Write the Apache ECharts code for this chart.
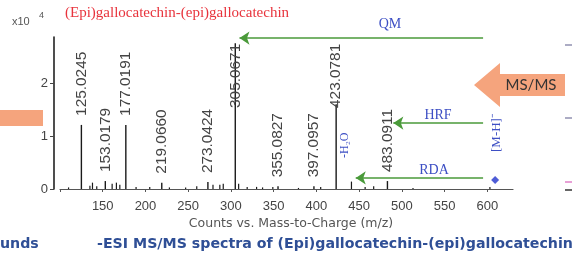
<!DOCTYPE html>
<html>
<head>
<meta charset="utf-8">
<script src="https://cdn.jsdelivr.net/npm/echarts@6/dist/echarts.min.js"></script>
<style>
  html, body { margin: 0; padding: 0; background: #fff; }
  #chart { width: 572px; height: 256px; }
</style>
</head>
<body>
<div id="chart"></div>
<script>
  // labelled fragment ions (m/z text, intensity x10^4)
  const labelMz = ['125.0245', '153.0179', '177.0191', '219.0660', '273.0424', '305.0671', '355.0827', '397.0957', '423.0781', '483.0911'];
  const labelInt = [1.21, 0.15, 1.21, 0.12, 0.13, 2.75, 0.05, 0.05, 1.60, 0.15];

  // small unlabelled peaks
  const minorMz = [110, 135, 138, 143, 161, 166, 170, 189, 205, 228, 247, 260, 279, 287, 291, 309, 319, 330, 337, 349, 379, 405, 441, 457, 467, 513, 603];
  const minorInt = [0.03, 0.06, 0.12, 0.05, 0.10, 0.12, 0.08, 0.04, 0.04, 0.03, 0.03, 0.05, 0.08, 0.08, 0.10, 0.10, 0.04, 0.04, 0.03, 0.04, 0.02, 0.04, 0.14, 0.04, 0.05, 0.02, 0.04];

  // precursor ion [M-H]-
  const precursor = [609.1, 0.17];

  const xTicks = [100, 150, 200, 250, 300, 350, 400, 450, 500, 550, 600];
  const yTicks = [0, 1, 2];

  const chart = echarts.init(document.getElementById('chart'));

  const peaks = [];
  labelMz.forEach((m, i) => peaks.push([parseFloat(m), labelInt[i], m]));
  minorMz.forEach((m, i) => peaks.push([m, minorInt[i], '']));

  const plotTop = 37;
  const green = '#4a9a3a';
  const blue = '#3d4fc4';
  const navy = '#2f4f96';

  const option = {
    animation: false,
    grid: { left: 60, right: 59, top: plotTop, bottom: 67 },
    xAxis: {
      type: 'value', min: 100, max: 630, offset: 6,
      axisLine: { lineStyle: { color: '#555', width: 1.2 } },
      axisTick: { customValues: xTicks, length: 3, lineStyle: { color: '#555' } },
      axisLabel: {
        customValues: xTicks, color: '#444', fontSize: 13, fontFamily: 'Liberation Sans',
        margin: 5, formatter: v => (v === 100 ? '' : String(v))
      },
      splitLine: { show: false }
    },
    yAxis: {
      type: 'value', min: 0, max: 2.87, offset: 6,
      axisLine: { show: true, lineStyle: { color: '#222', width: 1.6 } },
      axisTick: { show: true, customValues: yTicks, length: 4, lineStyle: { color: '#444' } },
      axisLabel: { customValues: yTicks, color: '#444', fontSize: 13, fontFamily: 'Liberation Sans', margin: 6 },
      splitLine: { show: false }
    },
    series: [
      {
        type: 'custom',
        data: peaks,
        silent: true,
        renderItem: (params, api) => {
          const mz = api.value(0);
          const base = api.coord([mz, 0]);
          const top = api.coord([mz, api.value(1)]);
          const text = peaks[params.dataIndex][2];
          const children = [{
            type: 'line',
            shape: { x1: base[0], y1: base[1], x2: top[0], y2: top[1] },
            style: { stroke: '#1a1a1a', lineWidth: text ? 1.4 : 1.2 }
          }];
          if (text) {
            const len = 66;
            let start = top[1] - 9;
            if (start - len < plotTop + 5) start = plotTop + 5 + len;
            children.push({
              type: 'text', x: top[0] + 0.5, y: start, rotation: Math.PI / 2, scaleX: 1.1,
              style: {
                text: text, fill: '#444', fontSize: 14, fontFamily: 'Liberation Sans',
                align: 'left', verticalAlign: 'middle'
              }
            });
          }
          return { type: 'group', children: children };
        }
      },
      {
        type: 'scatter',
        data: [precursor],
        symbol: 'diamond',
        symbolSize: 8,
        itemStyle: { color: '#2233cc' },
        silent: true,
        markLine: {
          silent: true,
          symbol: ['none', 'arrow'],
          symbolSize: 10,
          label: { show: false },
          lineStyle: { color: green, width: 1.6, type: 'solid' },
          data: [
            [{ coord: [595, 2.85] }, { coord: [310, 2.85] }],
            [{ coord: [595, 1.245] }, { coord: [490, 1.245] }],
            [{ coord: [595, 0.21] }, { coord: [446, 0.21] }]
          ]
        }
      }
    ],
    graphic: [
      { type: 'text', left: 12, top: 16, style: { text: 'x10', fill: '#555', fontSize: 11, fontFamily: 'Liberation Sans' } },
      { type: 'text', left: 39, top: 11, style: { text: '4', fill: '#555', fontSize: 9, fontFamily: 'Liberation Sans' } },
      { type: 'text', left: 65, top: 6, style: { text: '(Epi)gallocatechin-(epi)gallocatechin', fill: '#e8333c', fontSize: 15, fontFamily: 'Liberation Serif' } },
      { type: 'text', x: 390, y: 24, style: { text: 'QM', fill: blue, fontSize: 14, fontFamily: 'Liberation Serif', align: 'center', verticalAlign: 'middle' } },
      { type: 'text', x: 438, y: 115, style: { text: 'HRF', fill: blue, fontSize: 14, fontFamily: 'Liberation Serif', align: 'center', verticalAlign: 'middle' } },
      { type: 'text', x: 434, y: 170, style: { text: 'RDA', fill: blue, fontSize: 14, fontFamily: 'Liberation Serif', align: 'center', verticalAlign: 'middle' } },
      { type: 'text', x: 497, y: 152, rotation: Math.PI / 2, style: { text: '[M-H]\u207B', fill: blue, fontSize: 13, fontFamily: 'Liberation Serif', align: 'left', verticalAlign: 'middle' } },
      { type: 'text', x: 345, y: 158, rotation: Math.PI / 2, style: { text: '-H\u2082O', fill: blue, fontSize: 12, fontFamily: 'Liberation Serif', align: 'left', verticalAlign: 'middle' } },
      { type: 'text', x: 291, y: 224, style: { text: 'Counts vs. Mass-to-Charge (m/z)', fill: '#555', fontSize: 12.5, fontFamily: 'DejaVu Sans', align: 'center', verticalAlign: 'middle' } },
      // orange MS/MS block arrow
      { type: 'polygon', shape: { points: [[474, 85], [500, 63], [500, 74], [565, 74], [565, 96], [500, 96], [500, 107]] }, style: { fill: '#f5a47d' } },
      { type: 'text', x: 531, y: 85, style: { text: 'MS/MS', fill: '#333', fontSize: 15, fontFamily: 'Lato', align: 'center', verticalAlign: 'middle' } },
      { type: 'rect', shape: { x: 0, y: 110, width: 43, height: 16 }, style: { fill: '#f5a47d' } },
      // bottom caption
      { type: 'text', x: 0, y: 244, style: { text: 'unds', fill: navy, fontSize: 14.2, fontWeight: 'bold', fontFamily: 'DejaVu Sans', verticalAlign: 'middle' } },
      { type: 'text', x: 97, y: 244, style: { text: '-ESI MS/MS spectra of (Epi)gallocatechin-(epi)gallocatechin', fill: navy, fontSize: 14.2, fontWeight: 'bold', fontFamily: 'DejaVu Sans', verticalAlign: 'middle' } },
      // bits of neighbouring panel at right edge
      { type: 'line', shape: { x1: 565, y1: 45, x2: 572, y2: 45 }, style: { stroke: '#9090b0', lineWidth: 1.5 } },
      { type: 'line', shape: { x1: 565, y1: 118, x2: 572, y2: 118 }, style: { stroke: '#9090b0', lineWidth: 1.5 } },
      { type: 'line', shape: { x1: 565, y1: 182, x2: 572, y2: 182 }, style: { stroke: '#e080c8', lineWidth: 1.5 } },
      { type: 'line', shape: { x1: 565, y1: 190, x2: 572, y2: 190 }, style: { stroke: '#333', lineWidth: 1.5 } }
    ]
  };

  chart.setOption(option);
</script>
</body>
</html>
